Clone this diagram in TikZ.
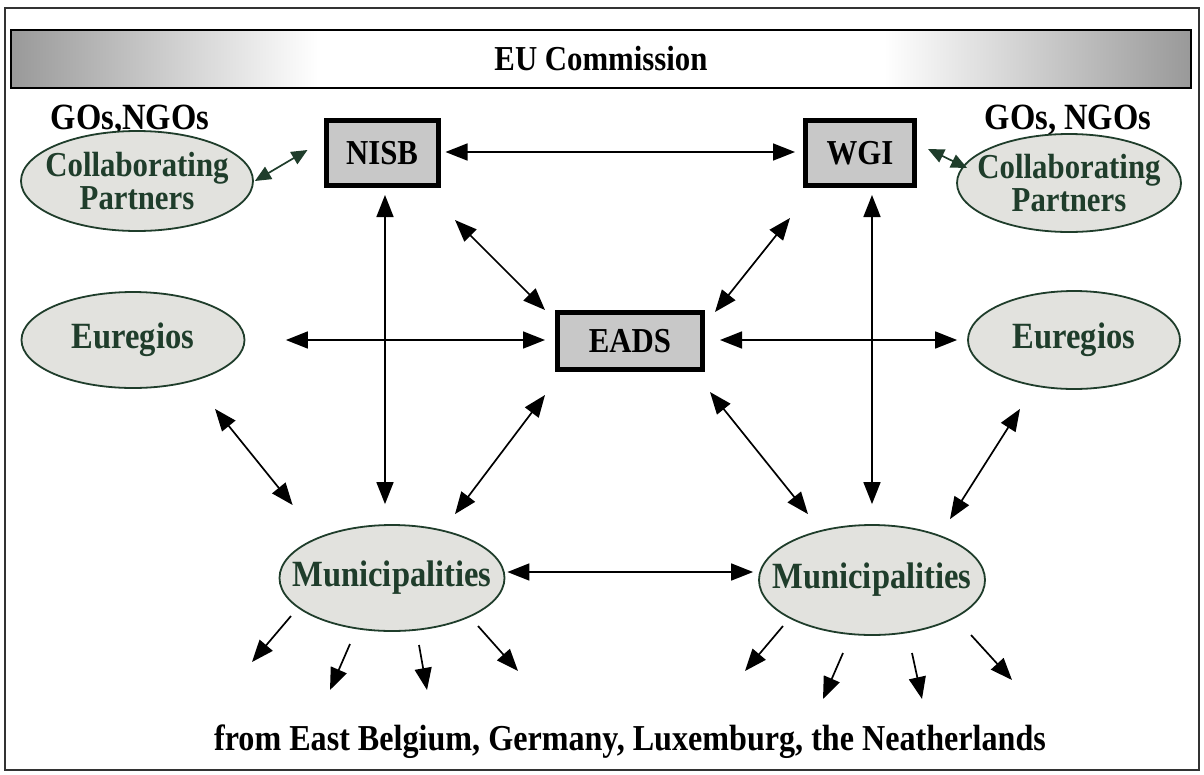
\documentclass[tikz,border=0pt]{standalone}
\usepackage{fontspec}
\setmainfont{Liberation Serif}[FakeStretch=0.88]
\usetikzlibrary{shapes.geometric,arrows.meta,calc}
\definecolor{dgreen}{HTML}{1F3D2B}
\definecolor{efill}{HTML}{E2E2DE}
\definecolor{bfill}{HTML}{C8C8C8}
\pgfdeclarehorizontalshading{eubar}{100bp}{color(0bp)=(black!40); color(25bp)=(black!40); color(38bp)=(white); color(62bp)=(white); color(75bp)=(black!40); color(100bp)=(black!40)}
\tikzset{
  fs/.style={font=\fontsize{#1}{33}\selectfont\bfseries},
  boxnode/.style={fs=35, draw=black, line width=5pt, fill=bfill, inner sep=0pt},
  ellshape/.style={ellipse, draw=dgreen, line width=1.8pt, fill=efill, inner sep=0pt},
  elltext/.style={fs=#1, text=dgreen, align=center, inner sep=0pt},
  elltext/.default=37,
  arr/.style={line width=1.7pt, {Triangle[length=22pt,width=17pt]}-{Triangle[length=22pt,width=17pt]}},
  garr/.style={line width=1.7pt, draw=dgreen, {Triangle[length=16pt,width=14pt]}-{Triangle[length=16pt,width=14pt]}},
  outarr/.style={line width=1.7pt, -{Triangle[length=22pt,width=17pt]}},
}
\begin{document}
\begin{tikzpicture}[x=1pt,y=-1pt]
\useasboundingbox (0,0) rectangle (1204,774);
\draw[line width=1.5pt, black!80] (5,8) rectangle (1199,770);
% EU Commission bar
\node[fs=35, shading=eubar, draw=black, line width=2.5pt, minimum width=1180pt, minimum height=58pt, inner sep=0pt] (eu) at (601,59) {EU Commission};
% labels
\node[fs=37] (gosL) at (130,120) {GOs,NGOs};
\node[fs=37] (gosR) at (1068,120) {GOs, NGOs};
% boxes
\node[boxnode, minimum width=112pt, minimum height=65pt] (nisb) at (382,153) {NISB};
\node[boxnode, minimum width=109pt, minimum height=65pt] (wgi) at (860,153) {WGI};
\node[boxnode, minimum width=145pt, minimum height=57pt] (eads) at (630,341) {EADS};
% ellipses
\node[ellshape, minimum width=232pt, minimum height=100pt] (cpL) at (137,181) {};
\node[elltext=35] (cpLt) at (cpL) {Collaborating\\Partners};
\node[ellshape, minimum width=224pt, minimum height=98pt] (cpR) at (1069,183) {};
\node[elltext=35] (cpRt) at (cpR) {Collaborating\\Partners};
\node[ellshape, minimum width=223pt, minimum height=96pt] (euL) at (133,340) {};
\node[elltext] (euLt) at (euL) {Euregios};
\node[ellshape, minimum width=212pt, minimum height=98pt] (euR) at (1074,340) {};
\node[elltext] (euRt) at (euR) {Euregios};
\node[ellshape, minimum width=225pt, minimum height=106pt] (mL) at (392,578) {};
\node[elltext] (mLt) at (mL) {Municipalities};
\node[ellshape, minimum width=226pt, minimum height=110pt] (mR) at (872,580) {};
\node[elltext] (mRt) at (mR) {Municipalities};
% connectors
\draw[arr] ([shift={(5,-1)}]nisb.east) -- ([shift={(-8,-1)}]wgi.west);
\draw[garr] ([shift={(1,0)}]cpL.east) -- ([shift={(-16,-3)}]nisb.west);
\draw[garr] ([shift={(11,-4)}]wgi.east) -- ([shift={(11,-15)}]cpR.west);
\draw[arr] ([shift={(3,7)}]nisb.south) -- ([shift={(-7,-20)}]mL.north);
\draw[arr] ([shift={(12,7)}]wgi.south) -- ([shift={(0,-20)}]mR.north);
\draw[arr] ([shift={(14.5,32)}]nisb.south east) -- ([shift={(-10,0)}]eads.north west);
\draw[arr] ([shift={(-13,30)}]wgi.south west) -- ([shift={(10,2)}]eads.north east);
\draw[arr] ([shift={(40.5,0)}]euL.east) -- ([shift={(-10,-1)}]eads.west);
\draw[arr] ([shift={(15,-1)}]eads.east) -- ([shift={(-10,0)}]euR.west);
\draw[arr] ([shift={(82,20)}]euL.south) -- ([shift={(14,-73)}]mL.west);
\draw[arr] ([shift={(-54,19)}]euR.south) -- ([shift={(78,-5)}]mR.north);
\draw[arr] ([shift={(-10,23)}]eads.south west) -- ([shift={(63,-10)}]mL.north);
\draw[arr] ([shift={(5,20)}]eads.south east) -- ([shift={(-64,-10)}]mR.north);
\draw[arr] ([shift={(2,-6)}]mL.east) -- ([shift={(-5,-8)}]mR.west);
% outward arrows
\draw[outarr] ([shift={(-101,38)}]mL.center) -- ++(-39,46);
\draw[outarr] ([shift={(-42,66)}]mL.center) -- ++(-20,46);
\draw[outarr] ([shift={(27,67)}]mL.center) -- ++(8,45);
\draw[outarr] ([shift={(86,48)}]mL.center) -- ++(40,45);
\draw[outarr] ([shift={(-89,46)}]mR.center) -- ++(-38,45);
\draw[outarr] ([shift={(-29,73)}]mR.center) -- ++(-20,46);
\draw[outarr] ([shift={(40,73)}]mR.center) -- ++(10,46);
\draw[outarr] ([shift={(99,55)}]mR.center) -- ++(41,45);
% bottom text
\node[fs=36.5] (from) at (630,742) {from East Belgium, Germany, Luxemburg, the Neatherlands};
\end{tikzpicture}
\end{document}
